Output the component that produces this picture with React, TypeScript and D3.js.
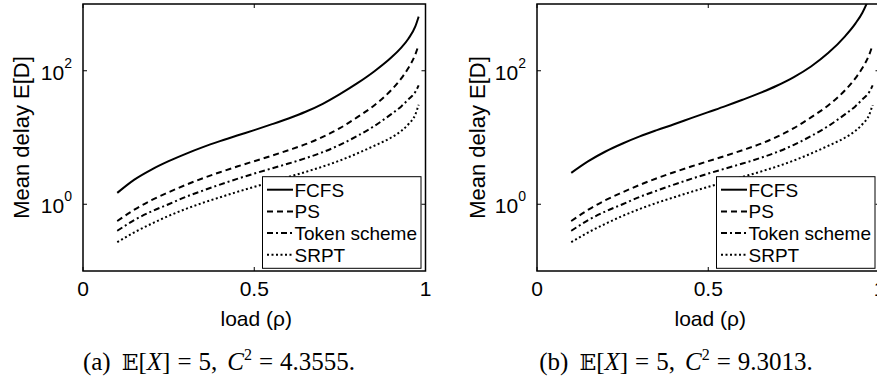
import { useEffect, useRef } from 'react';
import * as d3 from 'd3';

// load values where the curves were sampled
const loads = [0.1, 0.15, 0.2, 0.25, 0.3, 0.35, 0.4, 0.45, 0.5, 0.55, 0.6, 0.65, 0.7, 0.75, 0.8, 0.85, 0.9, 0.93, 0.95, 0.97, 0.98];

// mean delay per scheme
const fcfsA = [1.48, 2.34, 3.31, 4.42, 5.69, 7.16, 8.81, 10.7, 12.9, 15.7, 19.3, 24.3, 32, 44.7, 64.6, 97.7, 158, 224, 302, 457, 646];
const fcfsB = [2.95, 4.42, 6.17, 8.13, 10.4, 12.9, 15.8, 19.5, 24, 29.5, 36.7, 46.2, 59.6, 80.4, 116, 184, 331, 513, 741, 1259, 1778];
const ps = [0.56, 0.83, 1.15, 1.51, 1.95, 2.45, 3.02, 3.67, 4.42, 5.31, 6.46, 7.94, 10.2, 13.8, 20, 30.2, 51.3, 77.6, 110, 174, 245];
const token = [0.4, 0.58, 0.78, 1, 1.29, 1.6, 1.97, 2.4, 2.88, 3.43, 4.07, 4.9, 6.03, 7.76, 10.5, 14.8, 22.4, 29.5, 37.2, 47.9, 60.3];
const srpt = [0.27, 0.38, 0.51, 0.67, 0.85, 1.05, 1.27, 1.53, 1.82, 2.16, 2.57, 3.05, 3.67, 4.52, 5.75, 7.5, 10, 12.6, 15.8, 21.9, 30.9];

const seriesNames = ['FCFS', 'PS', 'Token scheme', 'SRPT'];
const xTicks = [0, 0.5, 1];
const xTickLabels = ['0', '0.5', '1'];
const yTicks = [1, 100];
const yTickExponents = ['0', '2'];
const captionTags = ['(a)', '(b)'];
const captionC2 = ['4.3555', '9.3013'];

const dashes = [null, '6,4', '6,3,2,3', '2,2.5'];
const sans = 'Liberation Sans, Arial, Helvetica, sans-serif';
const serif = 'Liberation Serif, Times New Roman, serif';

const plotTop = 4;
const plotBottom = 271;
const plotWidth = 342.5;
const panels = [
  { left: 83, fcfs: fcfsA, ylabelX: 28.5, captionX: 219 },
  { left: 537, fcfs: fcfsB, ylabelX: 485, captionX: 676 },
];

function App() {
  const svgRef = useRef(null);

  useEffect(() => {
    const svg = d3.select(svgRef.current);
    svg.selectAll('*').remove();

    panels.forEach((p, pi) => {
      const x = d3.scaleLinear().domain([0, 1]).range([p.left, p.left + plotWidth]);
      const y = d3.scaleLog().domain([0.1, 1000]).range([plotBottom, plotTop]);
      const g = svg.append('g');

      const clipId = `clip-${pi}`;
      g.append('clipPath')
        .attr('id', clipId)
        .append('rect')
        .attr('x', x(0))
        .attr('y', plotTop)
        .attr('width', plotWidth)
        .attr('height', plotBottom - plotTop);

      const line = d3
        .line()
        .x((d) => x(d[0]))
        .y((d) => y(d[1]))
        .curve(d3.curveMonotoneX);

      [p.fcfs, ps, token, srpt].forEach((vals, si) => {
        g.append('path')
          .attr('clip-path', `url(#${clipId})`)
          .attr('d', line(loads.map((l, k) => [l, vals[k]])))
          .attr('fill', 'none')
          .attr('stroke', '#000')
          .attr('stroke-width', 2)
          .attr('stroke-dasharray', dashes[si]);
      });

      // ticks (inward, all four sides)
      xTicks.forEach((t, k) => {
        g.append('line').attr('x1', x(t)).attr('x2', x(t)).attr('y1', plotBottom).attr('y2', plotBottom - 4).attr('stroke', '#000');
        g.append('line').attr('x1', x(t)).attr('x2', x(t)).attr('y1', plotTop).attr('y2', plotTop + 4).attr('stroke', '#000');
        g.append('text')
          .attr('x', x(t))
          .attr('y', 296)
          .attr('text-anchor', 'middle')
          .attr('font-family', sans)
          .attr('font-size', 21)
          .text(xTickLabels[k]);
      });
      yTicks.forEach((t, k) => {
        g.append('line').attr('x1', x(0)).attr('x2', x(0) + 4).attr('y1', y(t)).attr('y2', y(t)).attr('stroke', '#000');
        g.append('line').attr('x1', x(1)).attr('x2', x(1) - 4).attr('y1', y(t)).attr('y2', y(t)).attr('stroke', '#000');
        const lbl = g
          .append('text')
          .attr('x', x(0) - 11)
          .attr('y', y(t) + 9)
          .attr('text-anchor', 'end')
          .attr('font-family', sans)
          .attr('font-size', 21);
        lbl.append('tspan').text('10');
        lbl.append('tspan').attr('font-size', 14).attr('dy', -12).text(yTickExponents[k]);
      });

      g.append('rect')
        .attr('x', x(0))
        .attr('y', plotTop)
        .attr('width', plotWidth)
        .attr('height', plotBottom - plotTop)
        .attr('fill', 'none')
        .attr('stroke', '#000')
        .attr('stroke-width', 1.5);

      // axis titles
      g.append('text')
        .attr('transform', `translate(${p.ylabelX},${(plotTop + plotBottom) / 2}) rotate(-90)`)
        .attr('text-anchor', 'middle')
        .attr('font-family', sans)
        .attr('font-size', 22)
        .text('Mean delay E[D]');
      g.append('text')
        .attr('x', x(0.5) + 2)
        .attr('y', 326)
        .attr('text-anchor', 'middle')
        .attr('font-family', sans)
        .attr('font-size', 21)
        .text('load (ρ)');

      // legend
      const lw = 158.5;
      const lx = x(1) - 4.5 - lw;
      const ly = 176.7;
      const leg = g.append('g');
      leg.append('rect')
        .attr('x', lx)
        .attr('y', ly)
        .attr('width', lw)
        .attr('height', 91.6)
        .attr('fill', '#fff')
        .attr('stroke', '#000')
        .attr('stroke-width', 1);
      seriesNames.forEach((name, si) => {
        const cy = ly + 13 + si * 21.7;
        leg.append('line')
          .attr('x1', lx + 4.5)
          .attr('x2', lx + 30.5)
          .attr('y1', cy)
          .attr('y2', cy)
          .attr('stroke', '#000')
          .attr('stroke-width', 2)
          .attr('stroke-dasharray', dashes[si]);
        leg.append('text')
          .attr('x', lx + 32)
          .attr('y', ly + 20 + si * 21.7)
          .attr('font-family', sans)
          .attr('font-size', 19)
          .text(name);
      });

      // sub-caption
      const cap = g
        .append('text')
        .attr('x', p.captionX)
        .attr('y', 370)
        .attr('text-anchor', 'middle')
        .attr('font-family', serif)
        .attr('font-size', 25);
      cap.append('tspan').text(captionTags[pi]);
      cap.append('tspan').attr('dx', 11).attr('font-family', 'DejaVu Serif, DejaVu Sans, serif').attr('font-size', 22).text('𝔼');
      cap.append('tspan').text('[');
      cap.append('tspan').attr('font-style', 'italic').text('X');
      cap.append('tspan').text(']');
      cap.append('tspan').attr('dx', 7).text('=');
      cap.append('tspan').attr('dx', 7).text('5,');
      cap.append('tspan').attr('dx', 10).attr('font-style', 'italic').text('C');
      cap.append('tspan').attr('font-size', 16).attr('dy', -10).text('2');
      cap.append('tspan').attr('dx', 7).attr('dy', 10).text('=');
      cap.append('tspan').attr('dx', 7).text(`${captionC2[pi]}.`);
    });
  }, []);

  return (
    <svg
      ref={svgRef}
      width={877}
      height={387}
      style={{ position: 'absolute', left: 0, top: 0, background: '#fff' }}
    />
  );
}

export default App;
